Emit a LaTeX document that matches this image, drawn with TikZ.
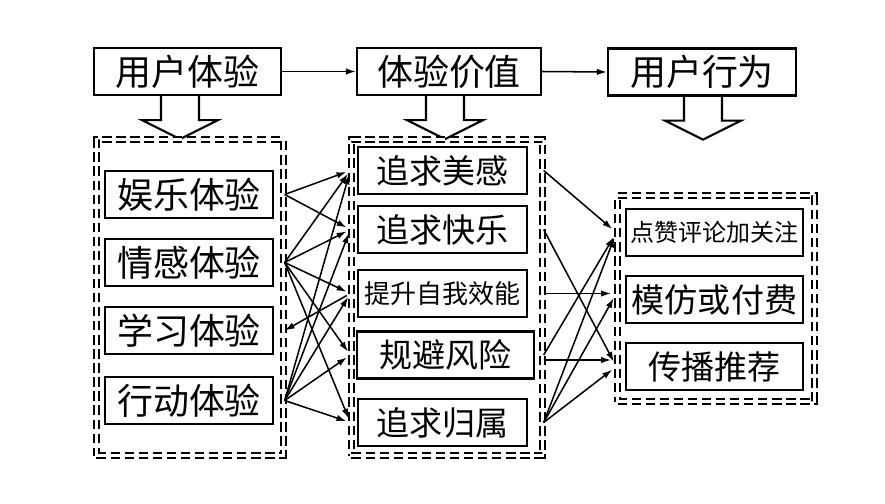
\documentclass[tikz,border=0pt]{standalone}
\usepackage{fontspec}
\usepackage{tikz}
\usetikzlibrary{arrows.meta}
\newfontfamily\cjk{Noto Sans CJK SC}

\tikzset{
  box/.style={draw, line width=2pt, inner sep=0pt, minimum height=1.41cm},
  fbig/.style={font=\cjk\fontsize{30.7pt}{32pt}\selectfont},
  fmid/.style={font=\cjk\fontsize{28.2pt}{30pt}\selectfont},
  grp/.style={draw, line width=2pt, double, double distance=2.2pt,
    dash pattern=on 8pt off 4pt, inner sep=0pt},
  arr/.style={-{Latex[length=8.5pt,width=5.5pt]}, line width=1.3pt},
  hollow/.style={line width=1.8pt, line join=miter},
}

\begin{document}
\begin{tikzpicture}[x=0.03cm, y=-0.03cm]
  \useasboundingbox (0,0) rectangle (885,504);
  % top row
  \node[box, fbig, minimum width=5.61cm] (ux)  at (187.5,71.5) {用户体验};
  \node[box, fbig, minimum width=5.52cm] (val) at (449,71.5)   {体验价值};
  \node[box, fbig, minimum width=5.64cm] (beh) at (702,72)     {用户行为};
  \draw[arr] (ux.east) -- (val.west);
  \draw[arr] (val.east) -- (beh.west);
  % hollow arrows under the top boxes
  \foreach \n/\dx in {ux/-7.5, val/-4, beh/1} {
    \draw[hollow] ([xshift=\dx*0.03cm]\n.south) ++(-19,0) -- ++(0,24) -- ++(-19,0)
      -- ++(38,19) -- ++(38,-19) -- ++(-19,0) -- ++(0,-24);
  }
  % dashed groups
  \node[grp, minimum width=5.61cm, minimum height=9.48cm] (lgrp) at (190,297.5) {};
  \node[grp, minimum width=5.73cm, minimum height=9.48cm] (mgrp) at (447,297.5) {};
  \node[grp, minimum width=5.91cm, minimum height=6.18cm] (rgrp) at (716,298.5) {};
  % experiences
  \node[box, fbig, minimum width=5.04cm] (yule)     at (189,194.5) {娱乐体验};
  \node[box, fbig, minimum width=5.04cm] (qinggan)  at (189,262.5) {情感体验};
  \node[box, fbig, minimum width=5.04cm] (xuexi)    at (189,330.5) {学习体验};
  \node[box, fbig, minimum width=5.04cm] (xingdong) at (189,400.5) {行动体验};
  % values
  \node[box, fmid, minimum width=5.07cm] (meigan)  at (442.5,170.5) {追求美感};
  \node[box, fmid, minimum width=5.07cm] (kuaile)  at (442.5,229.5) {追求快乐};
  \node[box, font=\cjk\fontsize{22.2pt}{24pt}\selectfont, minimum width=5.07cm]
    (tisheng) at (442.5,293.5) {提升自我效能};
  \node[box, fmid, minimum width=5.31cm] (guibi)   at (445.5,355)   {规避风险};
  \node[box, fmid, minimum width=5.07cm] (guishu)  at (442.5,422.5) {追求归属};
  % behaviours
  \node[box, font=\cjk\fontsize{20.5pt}{22pt}\selectfont, minimum width=5.31cm]
    (dianzan) at (714.5,232.5) {点赞评论加关注};
  \node[box, fmid, minimum width=5.31cm] (mofang)  at (714.5,299.5) {模仿或付费};
  \node[box, fmid, minimum width=5.31cm] (chuanbo) at (714.5,366.5) {传播推荐};
  % experience -> value
  \foreach \a/\b in {yule/meigan, yule/kuaile,
      qinggan/meigan, qinggan/kuaile, qinggan/tisheng, qinggan/guibi, qinggan/guishu,
      xingdong/meigan, xingdong/kuaile, xingdong/tisheng, xingdong/guibi, xingdong/guishu} {
    \draw[arr, shorten >=3.5pt] (\a.east -| lgrp.east) -- (\b.west -| mgrp.west);
  }
  \draw[arr, shorten <=3.5pt] (tisheng.west -| mgrp.west) -- (xuexi.east -| lgrp.east);
  % value -> behaviour
  \foreach \a/\b in {meigan/dianzan, kuaile/chuanbo, guibi/dianzan,
      guishu/dianzan, guishu/chuanbo} {
    \draw[arr, shorten >=4.5pt] (\a.east -| mgrp.east) -- (\b.west -| rgrp.west);
  }
  \foreach \a in {tisheng, guishu} {
    \draw[arr, shorten >=4.5pt] (\a.east -| mgrp.east) -- (tisheng.east -| rgrp.west);
  }
  \draw[arr, shorten >=4.5pt] ([yshift=-0.15cm]guibi.east -| mgrp.east)
    -- ([yshift=-0.15cm]guibi.east -| rgrp.west);
\end{tikzpicture}
\end{document}
